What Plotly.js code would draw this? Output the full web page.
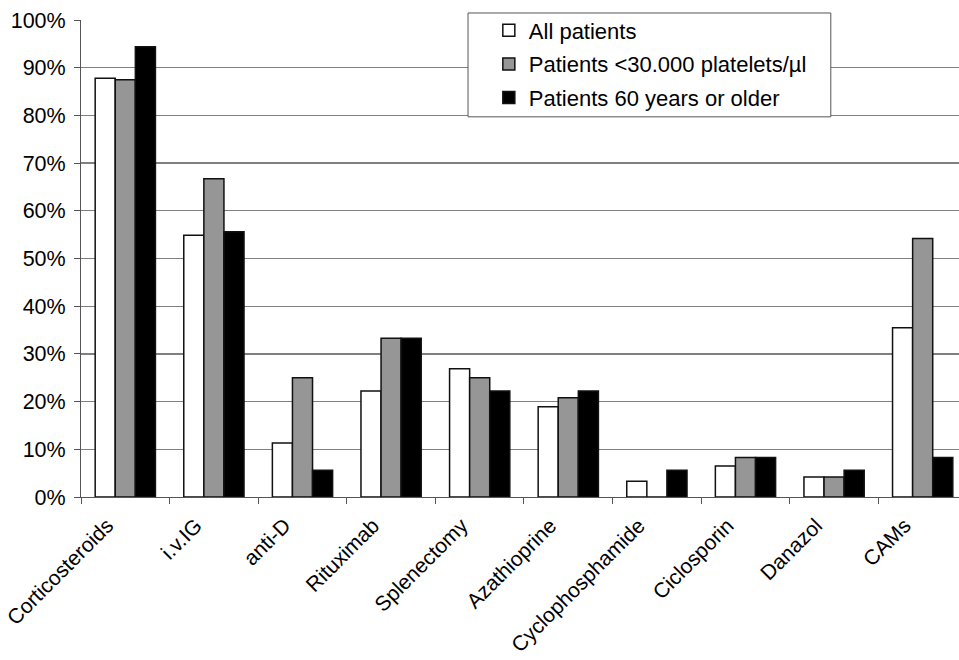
<!DOCTYPE html>
<html>
<head>
<meta charset="utf-8">
<script src="https://cdn.plot.ly/plotly-3.0.1.min.js"></script>
<style>
html,body{margin:0;padding:0;background:#fff;}
#chart{width:959px;height:660px;}
</style>
</head>
<body>
<div id="chart"></div>
<script>
const categories = ["Corticosteroids", "i.v.IG", "anti-D", "Rituximab", "Splenectomy", "Azathioprine", "Cyclophosphamide", "Ciclosporin", "Danazol", "CAMs"];
const allPatients = [87.8, 54.9, 11.3, 22.2, 26.9, 18.9, 3.3, 6.5, 4.2, 35.5];
const lowPlatelets = [87.5, 66.7, 25.0, 33.3, 25.0, 20.8, 0, 8.3, 4.2, 54.2];
const olderPatients = [94.4, 55.6, 5.6, 33.3, 22.2, 22.2, 5.6, 8.3, 5.6, 8.3];
const seriesNames = ["All patients", "Patients <30.000 platelets/µl", "Patients 60 years or older"];
const yTicks = [0, 10, 20, 30, 40, 50, 60, 70, 80, 90, 100];
const yTickText = ["0%", "10%", "20%", "30%", "40%", "50%", "60%", "70%", "80%", "90%", "100%"];

const FONT = "'Liberation Sans', Arial, Helvetica, sans-serif";
const colors = ["#ffffff", "#969696", "#000000"];
const seriesData = [allPatients, lowPlatelets, olderPatients];

const traces = seriesData.map((vals, i) => ({
  type: "bar",
  name: seriesNames[i],
  x: categories,
  y: vals,
  legendgroup: "g" + i,
  marker: {color: colors[i], line: {color: "#111", width: 1.5}},
  hoverinfo: "x+y+name"
}));

const layout = {
  width: 959,
  height: 660,
  margin: {l: 81, r: 0, t: 20, b: 163},
  paper_bgcolor: "#fff",
  plot_bgcolor: "#fff",
  font: {family: FONT, size: 21, color: "#000"},
  barmode: "group",
  bargap: 0.32,
  bargroupgap: 0,
  showlegend: true,
  legend: {
    x: 0.4645, y: 1.022, xanchor: "left", yanchor: "top",
    bgcolor: "rgba(0,0,0,0)", borderwidth: 0,
    font: {family: FONT, size: 22, color: "#000"},
    traceorder: "grouped", tracegroupgap: 2
  },
  xaxis: {
    type: "category",
    range: [-0.5, 9.41],
    tickson: "boundaries",
    ticks: "outside", ticklen: 6, tickcolor: "#555", tickwidth: 1,
    tickangle: -45,
    ticklabelstandoff: 7,
    ticklabelshift: -18,
    showline: true, linecolor: "#555", linewidth: 1,
    showgrid: false,
    tickfont: {family: FONT, size: 21, color: "#000"},
    fixedrange: true
  },
  yaxis: {
    range: [0, 100],
    tickmode: "array",
    tickvals: yTicks,
    ticktext: yTickText,
    ticks: "outside", ticklen: 6, tickcolor: "#555", tickwidth: 1,
    showline: true, linecolor: "#555", linewidth: 1,
    showgrid: true, gridcolor: "#808080", gridwidth: 1.3,
    zeroline: false,
    ticklabelstandoff: 4,
    tickfont: {family: FONT, size: 21.5, color: "#000"},
    fixedrange: true
  },
  shapes: [{
    type: "rect", xref: "paper", yref: "paper",
    x0: 0.4408, x1: 0.854, y0: 0.797, y1: 1.0147,
    fillcolor: "#fff", line: {color: "#555", width: 1}, layer: "above"
  }]
};

Plotly.newPlot("chart", traces, layout, {displayModeBar: false, staticPlot: true});
</script>
</body>
</html>
